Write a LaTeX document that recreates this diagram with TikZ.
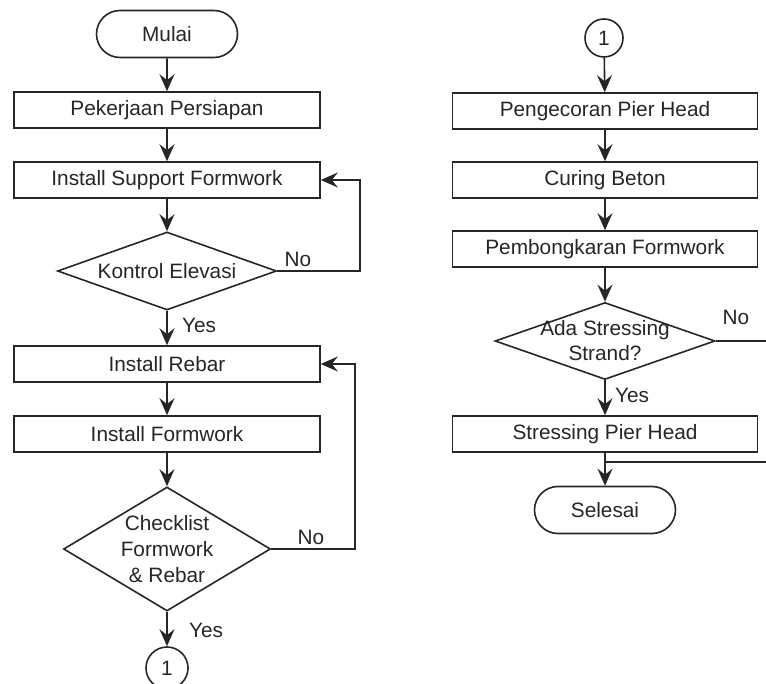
\documentclass[tikz,border=0pt]{standalone}
\usepackage{fontspec}
\setmainfont{Liberation Sans}
\usetikzlibrary{shapes.geometric,shapes.misc,arrows.meta}
\begin{document}
\begin{tikzpicture}[x=1pt,y=-1pt,
  every node/.style={font=\fontsize{20.8}{25}\selectfont, text=black!85},
  line/.style={draw=black!85, line width=1.6pt},
  flow/.style={line, -{Stealth[length=17pt,width=15pt,inset=6pt]}},
  procbox/.style={line, rectangle, minimum width=306pt, minimum height=36pt, inner sep=0pt},
  term/.style={line, rounded rectangle, minimum width=141pt, minimum height=47pt, inner sep=0pt},
  decision/.style={line, diamond, inner sep=0pt},
  conn/.style={line, circle, inner sep=0pt},
  lbl/.style={inner sep=0pt}]
\clip (0,0) rectangle (766,684);
\fill[white] (0,0) rectangle (766,684);

% left column
\node[term] (start) at (167,34) {Mulai};
\node[procbox] (p1) at (167,110) {Pekerjaan Persiapan};
\node[procbox] (p2) at (167,180) {Install Support Formwork};
\node[decision, minimum width=219pt, minimum height=78pt] (d1) at (167,271) {};
\node[lbl] at (d1) {Kontrol Elevasi};
\node[procbox] (p3) at (167,364) {Install Rebar};
\node[procbox] (p4) at (167,434) {Install Formwork};
\node[decision, minimum width=207pt, minimum height=124pt] (d2) at (167,549) {};
\node[lbl, align=center, font=\fontsize{20.8}{26}\selectfont] at (d2) {Checklist\\Formwork\\\& Rebar};
\node[conn, minimum size=42pt] (c1) at (167,668) {1};

\coordinate (k1) at (360,271);
\coordinate (k2) at (355,549);

\draw[flow] (start) -- (p1);
\draw[flow] (p1) -- (p2);
\draw[flow] (p2) -- (d1);
\draw[flow] (d1) -- (p3);
\draw[flow] (p3) -- (p4);
\draw[flow] (p4) -- (d2);
\draw[flow] (d2) -- (c1);
\draw[flow] (d1.east) -- (k1) |- (p2.east);
\draw[flow] (d2.east) -- (k2) |- (p3.east);

\node[lbl] at (298,259) {No};
\node[lbl] at (199,325) {Yes};
\node[lbl] at (311,537) {No};
\node[lbl] at (206,630) {Yes};

% right column
\node[conn, minimum size=38pt] (c2) at (604,38) {1};
\node[procbox, minimum width=305pt] (q1) at (605,111) {Pengecoran Pier Head};
\node[procbox, minimum width=305pt] (q2) at (605,180) {Curing Beton};
\node[procbox, minimum width=305pt] (q3) at (605,249) {Pembongkaran Formwork};
\node[decision, minimum width=220pt, minimum height=77pt] (d3) at (605,341) {};
\node[lbl, align=center] at (d3) {Ada Stressing\\Strand?};
\node[procbox, minimum width=305pt] (q4) at (605,434) {Stressing Pier Head};
\node[term] (stop) at (605,510) {Selesai};

\coordinate (rout) at (775,341);
\coordinate (rin) at (775,462);
\coordinate (join) at (605,462);

\draw[flow] (c2) -- (q1);
\draw[flow] (q1) -- (q2);
\draw[flow] (q2) -- (q3);
\draw[flow] (q3) -- (d3);
\draw[flow] (d3) -- (q4);
\draw[flow] (q4) -- (stop);
\draw[line] (d3.east) -- (rout) -- (rin) -- (join);

\node[lbl] at (736,317) {No};
\node[lbl] at (632,395) {Yes};
\end{tikzpicture}
\end{document}
